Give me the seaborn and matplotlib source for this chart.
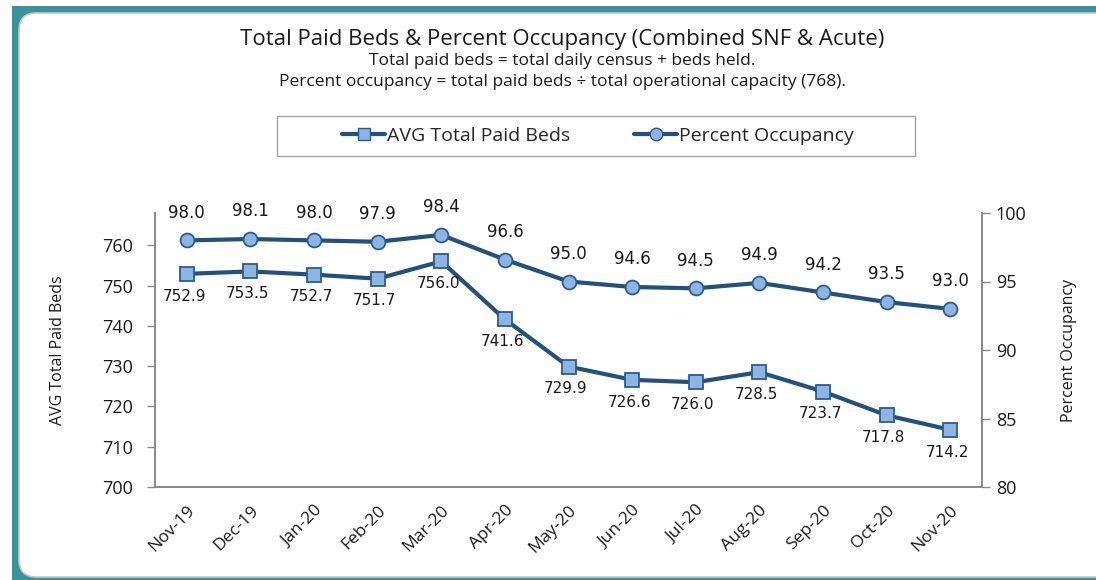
import numpy as np
import pandas as pd
import matplotlib
matplotlib.use("Agg")
import matplotlib.pyplot as plt
import seaborn as sns
from matplotlib.patches import FancyBboxPatch, Rectangle
from matplotlib.lines import Line2D

# Data
months = ["Nov-19", "Dec-19", "Jan-20", "Feb-20", "Mar-20", "Apr-20", "May-20",
          "Jun-20", "Jul-20", "Aug-20", "Sep-20", "Oct-20", "Nov-20"]
paid_beds = [752.9, 753.5, 752.7, 751.7, 756.0, 741.6, 729.9,
             726.6, 726.0, 728.5, 723.7, 717.8, 714.2]
pct_occ = [98.0, 98.1, 98.0, 97.9, 98.4, 96.6, 95.0,
           94.6, 94.5, 94.9, 94.2, 93.5, 93.0]
left_ticks = [700, 710, 720, 730, 740, 750, 760]
right_ticks = [80, 85, 90, 95, 100]

df = pd.DataFrame({"Month": months, "Beds": paid_beds, "Pct": pct_occ})

sns.set_style("white")
plt.rcParams['font.family'] = ['Open Sans', 'DejaVu Sans']

line_col = "#24507e"
fill_col = "#8db4e3"
edge_col = "#2b5c93"
txt_col = "#1a1a1a"

fig = plt.figure(figsize=(10.96, 5.80), dpi=100)

# frame: teal band top/left, white rounded panel
W, H = 1096, 580
fig.patches.append(Rectangle((12 / W, 0), 1, 1 - 6 / H, transform=fig.transFigure,
                             facecolor="#3b929b", edgecolor="none", zorder=-3))
fig.patches.append(FancyBboxPatch((19 / W, 3 / H), 1100 / W, (H - 13 - 3) / H,
                                  boxstyle="round,pad=0,rounding_size=0.016",
                                  transform=fig.transFigure, facecolor="white",
                                  edgecolor="#c8c8c8", lw=1.2, zorder=-2,
                                  mutation_aspect=W / H))
# legend box
fig.patches.append(Rectangle((277 / W, 1 - 156 / H), (915 - 277) / W, 40 / H,
                             transform=fig.transFigure, facecolor="white",
                             edgecolor="#a6a6a6", lw=1.0, zorder=-1))

ax = fig.add_axes([155 / W, 1 - 487 / H, (982 - 155) / W, (487 - 213) / H])
ax.set_facecolor("none")
ax2 = ax.twinx()

sns.lineplot(data=df, x="Month", y="Beds", ax=ax, color=line_col, lw=3,
             marker="s", markersize=10, markerfacecolor=fill_col,
             markeredgecolor=edge_col, markeredgewidth=1.3, sort=False)
sns.lineplot(data=df, x="Month", y="Pct", ax=ax2, color=line_col, lw=3,
             marker="o", markersize=10, markerfacecolor=fill_col,
             markeredgecolor=edge_col, markeredgewidth=1.3, sort=False)

ax.set_xlim(-0.5, len(months) - 0.5)
ax.set_ylim(700, 768)
ax2.set_ylim(80, 100)
ax.set_yticks(left_ticks)
ax2.set_yticks(right_ticks)

ax.set_xticks(range(len(months)))
ax.set_xticklabels(months, rotation=45, ha="right", rotation_mode="anchor",
                   fontsize=12.5, color=txt_col)
ax.set_xticks(np.arange(-0.5, len(months), 1), minor=True)
ax.tick_params(axis="x", which="major", length=0, pad=11)
ax.tick_params(axis="x", which="minor", length=6, color="#888888", width=1)
ax.tick_params(axis="y", length=6, color="#888888", width=1, labelsize=13,
               labelcolor=txt_col, left=True, pad=10)
ax2.tick_params(axis="y", length=6, color="#888888", width=1, labelsize=13,
                labelcolor=txt_col, right=True, pad=4)

for a in (ax, ax2):
    a.spines["top"].set_visible(False)
    for s in ("left", "right", "bottom"):
        a.spines[s].set_color("#888888")
        a.spines[s].set_linewidth(1.2)

ax.set_xlabel("")
ax.set_ylabel("AVG Total Paid Beds", fontsize=11.5, color=txt_col, labelpad=26)
ax2.set_ylabel("Percent Occupancy", fontsize=11.5, color=txt_col, labelpad=25)

for i, v in enumerate(paid_beds):
    ax.annotate(f"{v:.1f}", (i, v), xytext=(-2, -16), textcoords="offset points",
                ha="center", va="center", fontsize=11, color=txt_col,
                family="DejaVu Sans")
for i, v in enumerate(pct_occ):
    ax2.annotate(f"{v:.1f}", (i, v), xytext=(0, 20), textcoords="offset points",
                 ha="center", va="center", fontsize=12, color=txt_col,
                 family="DejaVu Sans")

fig.text(562 / W, 1 - 40 / H, "Total Paid Beds & Percent Occupancy (Combined SNF & Acute)",
         ha="center", va="center", fontsize=16, color=txt_col)
fig.text(562 / W, 1 - 61 / H, "Total paid beds = total daily census + beds held.",
         ha="center", va="center", fontsize=12.5, color=txt_col)
fig.text(562 / W, 1 - 82 / H,
         "Percent occupancy = total paid beds \u00f7 total operational capacity (768).",
         ha="center", va="center", fontsize=12.5, color=txt_col)

handles = [
    Line2D([], [], color=line_col, lw=3, marker="s", markersize=9,
           markerfacecolor=fill_col, markeredgecolor=edge_col),
    Line2D([], [], color=line_col, lw=3, marker="o", markersize=9,
           markerfacecolor=fill_col, markeredgecolor=edge_col),
]
leg = fig.legend(handles, ["AVG Total Paid Beds", "Percent Occupancy"],
                 loc="center", bbox_to_anchor=(598 / W, 1 - 136 / H), ncol=2,
                 fontsize=14, frameon=False, handlelength=2.2,
                 handletextpad=0.1, columnspacing=3.3, borderaxespad=0)

fig.savefig("out.png", dpi=100)
